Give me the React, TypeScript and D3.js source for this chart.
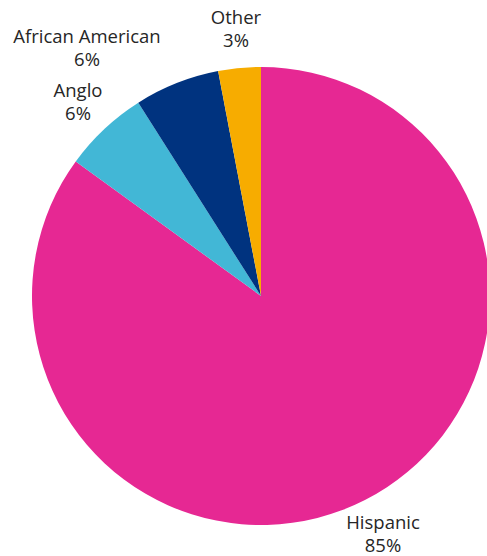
import React from "react";
import * as d3 from "d3";

const categories = ["Hispanic", "Anglo", "African American", "Other"];
const values = [85, 6, 6, 3];
const labels = ["85%", "6%", "6%", "3%"];
const colors = ["#E62893", "#42B7D6", "#00337F", "#F7AC00"];
const labelPos: [number, number][] = [
  [383, 529],
  [78, 97],
  [87, 43],
  [236, 24],
];

export default function App() {
  const width = 487;
  const height = 556;
  const cx = 261;
  const cy = 296;
  const r = 229;
  const pie = d3
    .pie<number>()
    .sort(null)
    .startAngle(0)
    .endAngle(2 * Math.PI)(values);
  const arc = d3.arc<d3.PieArcDatum<number>>().innerRadius(0).outerRadius(r);
  return (
    <svg
      width={width}
      height={height}
      style={{ position: "absolute", left: 0, top: 0 }}
      fontFamily="'Open Sans', sans-serif"
    >
      <g transform={`translate(${cx},${cy})`}>
        {pie.map((d, i) => (
          <path key={i} d={arc(d) || ""} fill={colors[i]} />
        ))}
      </g>
      {categories.map((c, i) => (
        <text
          key={c}
          x={labelPos[i][0]}
          y={labelPos[i][1]}
          textAnchor="middle"
          fontSize={18.5}
          fill="#262626"
        >
          <tspan x={labelPos[i][0]}>{c}</tspan>
          <tspan x={labelPos[i][0]} dy={23}>
            {labels[i]}
          </tspan>
        </text>
      ))}
    </svg>
  );
}
